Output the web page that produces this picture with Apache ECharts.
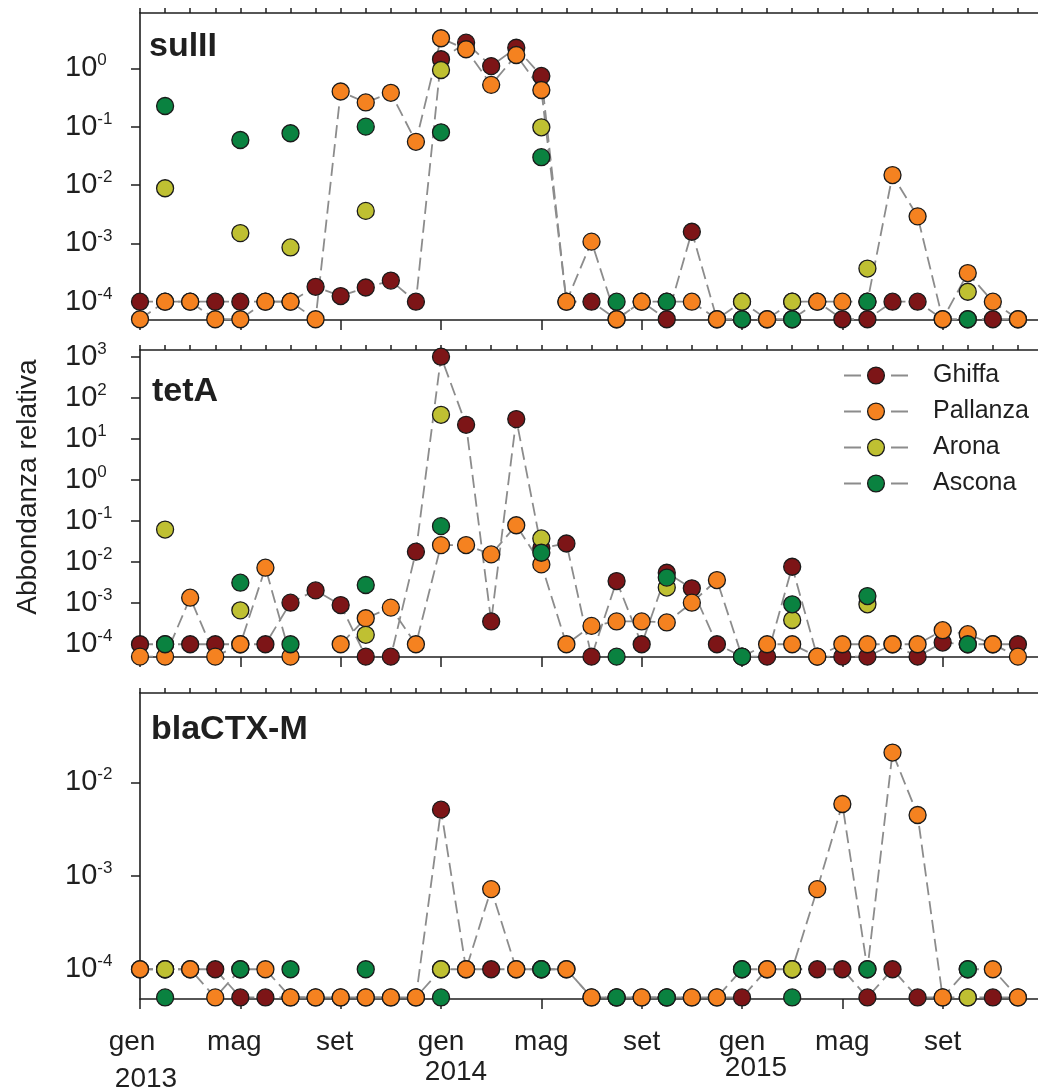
<!DOCTYPE html>
<html><head><meta charset="utf-8">
<script src="https://cdn.jsdelivr.net/npm/echarts@6/dist/echarts.min.js"></script>
<style>html,body{margin:0;padding:0;background:#fff}#c{width:1038px;height:1088px}</style>
</head><body><div id="c"></div>
<script>
// ---- data (month index 0 = gen 2013 ... 35 = dic 2015), null = not sampled ----
const sites = ['Ghiffa', 'Pallanza', 'Arona', 'Ascona'];
const panelTitles = ['sulII', 'tetA', 'blaCTX-M'];
const monthNames = ['gen', 'mag', 'set'];
const yearNames = ['2013', '2014', '2015'];
const monthTicks = [0,1,2,3,4,5,6,7,8,9,10,11,12,13,14,15,16,17,18,19,20,21,22,23,24,25,26,27,28,29,30,31,32,33,34,35];
const labelTicks = [0, 4, 8, 12, 16, 20, 24, 28, 32];
const sulII_ticks = [-4, -3, -2, -1, 0];
const tetA_ticks = [-4, -3, -2, -1, 0, 1, 2, 3];
const blaCTX_ticks = [-4, -3, -2];

const sulII_Ghiffa = [1e-4,1e-4,1e-4,1e-4,1e-4,1e-4,1e-4,1.8e-4,1.25e-4,1.75e-4,2.3e-4,1e-4,
  1.43,2.75,1.09,2.25,0.74,1e-4,1e-4,5e-5,1e-4,5e-5,1.58e-3,5e-5,
  5e-5,5e-5,5e-5,1e-4,5e-5,5e-5,1e-4,1e-4,5e-5,5e-5,5e-5,5e-5];
const sulII_Pallanza = [5e-5,1e-4,1e-4,5e-5,5e-5,1e-4,1e-4,5e-5,0.40,0.26,0.38,0.055,
  3.27,2.12,0.52,1.69,0.425,1e-4,1.07e-3,5e-5,1e-4,1e-4,1e-4,5e-5,
  1e-4,5e-5,1e-4,1e-4,1e-4,1e-4,0.0148,2.9e-3,5e-5,3.1e-4,1e-4,5e-5];
const sulII_Arona = [null,0.0088,null,null,0.0015,null,8.5e-4,null,null,0.0036,null,null,
  0.935,null,null,null,0.0975,null,null,null,null,null,null,null,
  1e-4,null,1e-4,null,null,3.7e-4,null,null,null,1.48e-4,null,null];
const sulII_Ascona = [null,0.226,null,null,0.059,null,0.077,null,null,0.10,null,null,
  0.08,null,null,null,0.030,null,null,1e-4,null,1e-4,null,null,
  5e-5,null,5e-5,null,null,1e-4,null,null,null,5e-5,null,null];

const tetA_Ghiffa = [1e-4,1e-4,1e-4,1e-4,1e-4,1e-4,1.03e-3,2.05e-3,9e-4,5e-5,5e-5,0.0179,
  1000,22,3.6e-4,30.3,0.022,0.0284,5e-5,3.46e-3,1e-4,5.5e-3,2.3e-3,1e-4,
  5e-5,5e-5,7.7e-3,5e-5,5e-5,5e-5,1e-4,5e-5,1.1e-4,1e-4,1e-4,1e-4];
const tetA_Pallanza = [5e-5,5e-5,1.36e-3,5e-5,1e-4,7.3e-3,5e-5,null,1e-4,4.3e-4,7.8e-4,1e-4,
  0.0259,0.026,0.0154,0.079,8.8e-3,1e-4,2.8e-4,3.6e-4,3.6e-4,3.4e-4,1.03e-3,3.66e-3,
  5e-5,1e-4,1e-4,5e-5,1e-4,1e-4,1e-4,1e-4,2.2e-4,1.76e-4,1e-4,5e-5];
const tetA_Arona = [null,0.062,null,null,6.7e-4,null,null,null,null,1.7e-4,null,null,
  38.5,null,null,null,0.0376,null,null,null,null,2.4e-3,null,null,
  null,null,3.9e-4,null,null,9.4e-4,null,null,null,null,null,null];
const tetA_Ascona = [null,1e-4,null,null,3.15e-3,null,1e-4,null,null,2.77e-3,null,null,
  0.075,null,null,null,0.0169,null,null,5e-5,null,4.2e-3,null,null,
  5e-5,null,9.4e-4,null,null,1.49e-3,null,null,null,1e-4,null,null];

const blaCTX_Ghiffa = [1e-4,1e-4,1e-4,1e-4,5e-5,5e-5,5e-5,5e-5,5e-5,5e-5,5e-5,5e-5,
  5.1e-3,1e-4,1e-4,1e-4,1e-4,1e-4,5e-5,5e-5,5e-5,5e-5,5e-5,5e-5,
  5e-5,1e-4,1e-4,1e-4,1e-4,5e-5,1e-4,5e-5,5e-5,5e-5,5e-5,5e-5];
const blaCTX_Pallanza = [1e-4,1e-4,1e-4,5e-5,1e-4,1e-4,5e-5,5e-5,5e-5,5e-5,5e-5,5e-5,
  1e-4,1e-4,7.2e-4,1e-4,1e-4,1e-4,5e-5,5e-5,5e-5,5e-5,5e-5,5e-5,
  1e-4,1e-4,1e-4,7.2e-4,5.86e-3,1e-4,0.0208,4.47e-3,5e-5,1e-4,1e-4,5e-5];
const blaCTX_Arona = [null,1e-4,null,null,null,null,null,null,null,null,null,null,
  1e-4,null,null,null,null,null,null,null,null,null,null,null,
  null,null,1e-4,null,null,null,null,null,null,5e-5,null,null];
const blaCTX_Ascona = [null,5e-5,null,null,1e-4,null,1e-4,null,null,1e-4,null,null,
  5e-5,null,null,null,1e-4,null,null,5e-5,null,5e-5,null,null,
  1e-4,null,5e-5,null,null,1e-4,null,null,null,1e-4,null,null];

// ---- styling ----
const FONT = 'Liberation Sans, Arial, Helvetica, sans-serif';
const INK = '#1f1f1f';
const COLORS = ['#7d1517', '#f58220', '#bfc032', '#0a8240'];
const LINE_GRAY = '#8c8c8c';

const panelData = [
  [sulII_Ghiffa, sulII_Pallanza, sulII_Arona, sulII_Ascona],
  [tetA_Ghiffa, tetA_Pallanza, tetA_Arona, tetA_Ascona],
  [blaCTX_Ghiffa, blaCTX_Pallanza, blaCTX_Arona, blaCTX_Ascona]
];
const panelTicks = [sulII_ticks, tetA_ticks, blaCTX_ticks];
const grids = [
  {left: 140, top: 13, width: 898, height: 307},
  {left: 140, top: 350, width: 898, height: 307},
  {left: 140, top: 693, width: 898, height: 306}
];
const X_MAX = 35.8;
const yRangeExp = [[-4.3136, 0.9477], [-4.31, 3.163], [-4.318, -1.045]];
const titleTops = [30, 375, 713];
const titleLefts = [149, 152, 151];

const axisLineStyle = {color: INK, width: 1.6};
const tickLine = {color: INK, width: 1.5};

const xAxes = [];
grids.forEach((g, i) => {
  // main axis: bottom line, long ticks, labels
  xAxes.push({
    type: 'value', gridIndex: i, min: 0, max: X_MAX,
    axisLine: {show: true, onZero: false, lineStyle: axisLineStyle},
    axisTick: {show: true, length: 10, customValues: labelTicks, lineStyle: tickLine},
    splitLine: {show: false},
    axisLabel: i < 2 ? {show: false} : {
      show: true, margin: 28, customValues: labelTicks, hideOverlap: false,
      formatter: function (v) {
        const k = Math.round(v / 4);
        const name = monthNames[k % 3];
        const st = k === 0 ? 'm0' : (k < 3 ? 'mA' : 'm');
        if (k % 3 === 0) {
          const y = k / 3;
          return '{' + st + '|' + name + '}\n{y' + y + '|' + yearNames[y] + '}';
        }
        return '{' + st + '|' + name + '}';
      },
      rich: {
        m: {fontSize: 28, lineHeight: 30, fontFamily: FONT, color: INK},
        m0: {fontSize: 28, lineHeight: 30, fontFamily: FONT, color: INK, padding: [0, 16, 0, 0]},
        mA: {fontSize: 28, lineHeight: 30, fontFamily: FONT, color: INK, padding: [0, 12, 0, 0]},
        y0: {fontSize: 28, lineHeight: 44, fontFamily: FONT, color: INK, padding: [0, 0, 0, 12]},
        y1: {fontSize: 28, lineHeight: 30, fontFamily: FONT, color: INK, padding: [0, 0, 0, 30]},
        y2: {fontSize: 28, lineHeight: 22, fontFamily: FONT, color: INK, padding: [0, 0, 0, 28]}
      }
    }
  });
  // monthly short ticks
  xAxes.push({
    type: 'value', gridIndex: i, min: 0, max: X_MAX,
    axisLine: {show: false, onZero: false},
    axisTick: {show: true, length: 5, customValues: monthTicks, lineStyle: tickLine},
    axisLabel: {show: false}, splitLine: {show: false}
  });
  // top frame line
  xAxes.push({
    type: 'value', gridIndex: i, min: 0, max: X_MAX, position: 'top',
    axisLine: {show: true, onZero: false, lineStyle: axisLineStyle},
    axisTick: {show: false}, axisLabel: {show: false}, splitLine: {show: false}
  });
});

const yAxes = grids.map((g, i) => {
  const ticks = panelTicks[i].map(e => Math.pow(10, e));
  return {
    type: 'log', logBase: 10, gridIndex: i,
    min: Math.pow(10, yRangeExp[i][0]), max: Math.pow(10, yRangeExp[i][1]),
    axisLine: {show: true, onZero: false, lineStyle: axisLineStyle},
    axisTick: {show: true, length: 9, customValues: ticks, lineStyle: tickLine},
    minorTick: {show: false},
    splitLine: {show: false},
    axisLabel: {
      show: true, customValues: ticks, align: 'left', margin: 75,
      formatter: function (v) {
        const e = Math.round(Math.log10(v));
        return '{b|10}{s|' + e + '}';
      },
      rich: {
        b: {fontSize: 29, lineHeight: 32, fontFamily: FONT, color: INK},
        s: {fontSize: 17, lineHeight: 24, verticalAlign: 'top', fontFamily: FONT, color: INK}
      }
    }
  };
});

const series = [];
// dashed connecting lines (drawn beneath all markers)
panelData.forEach((arrs, p) => {
  arrs.forEach((arr, s) => {
    series.push({
      type: 'line', name: sites[s], xAxisIndex: p * 3, yAxisIndex: p,
      data: arr.map((v, i) => [i, v]),
      symbol: 'none', connectNulls: false, silent: true, z: 2,
      lineStyle: {color: LINE_GRAY, width: 1.8, type: [13, 6]},
      itemStyle: {color: COLORS[s], borderColor: '#1a1a1a', borderWidth: 1.3}
    });
  });
});
// markers
panelData.forEach((arrs, p) => {
  arrs.forEach((arr, s) => {
    const pts = [];
    arr.forEach((v, i) => { if (v !== null) pts.push([i, v]); });
    series.push({
      type: 'scatter', name: sites[s], xAxisIndex: p * 3, yAxisIndex: p,
      data: pts, symbol: 'circle', symbolSize: 17, z: 3,
      itemStyle: {color: COLORS[s], borderColor: '#1a1a1a', borderWidth: 1.3, opacity: 1}
    });
  });
});

const option = {
  animation: false,
  backgroundColor: '#fff',
  grid: grids.map(g => Object.assign({show: false, containLabel: false, outerBoundsMode: 'none'}, g)),
  xAxis: xAxes,
  yAxis: yAxes,
  title: panelTitles.map((t, i) => ({
    text: t, left: titleLefts[i], top: titleTops[i], padding: 0,
    textStyle: {fontSize: 34, fontWeight: 'bold', color: INK, fontFamily: FONT, lineHeight: 34}
  })),
  legend: {
    data: sites, orient: 'vertical', left: 843, top: 363,
    itemWidth: 64, itemHeight: 21, itemGap: 11, padding: 0, selectedMode: false,
    textStyle: {fontSize: 25, color: INK, fontFamily: FONT, padding: [0, 0, 0, 20]},
    itemStyle: {borderColor: '#1a1a1a', borderWidth: 1.3},
    lineStyle: {type: [17, 30], width: 2, color: LINE_GRAY}
  },
  graphic: [{
    type: 'text', x: 28, y: 487, rotation: Math.PI / 2,
    style: {text: 'Abbondanza relativa', fontSize: 28, fontFamily: FONT, fill: INK,
      textAlign: 'center', textVerticalAlign: 'middle'}
  }],
  series: series
};

const chart = echarts.init(document.getElementById('c'), null, {renderer: 'canvas'});
chart.setOption(option);
</script></body></html>
